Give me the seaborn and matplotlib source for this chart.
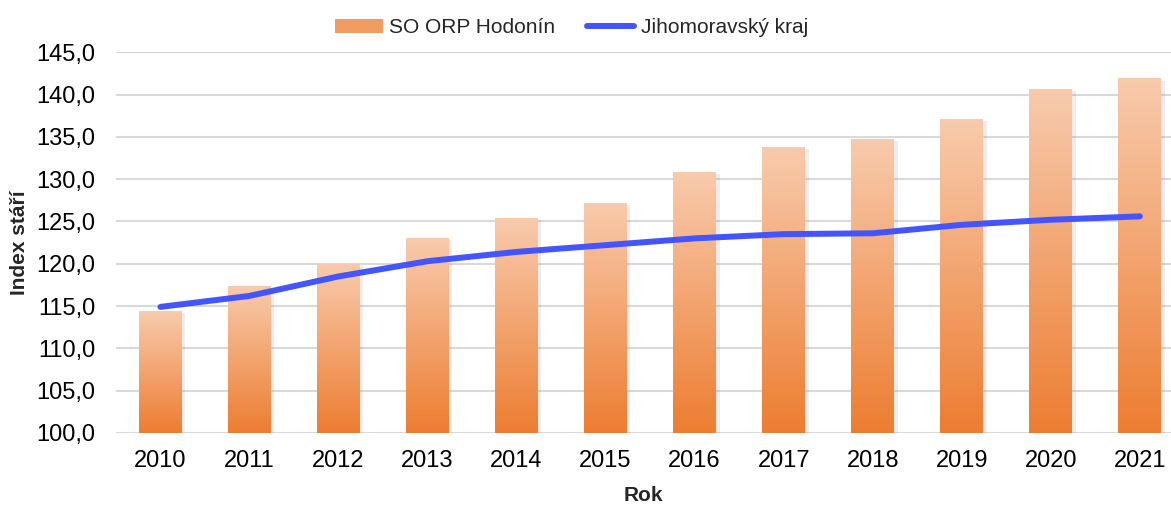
import numpy as np
import pandas as pd
import seaborn as sns
import matplotlib.pyplot as plt
from matplotlib.ticker import FuncFormatter, MultipleLocator
from matplotlib.colors import LinearSegmentedColormap
from matplotlib.patches import Patch
from matplotlib.lines import Line2D
import matplotlib.patheffects as pe

years = [2010, 2011, 2012, 2013, 2014, 2015, 2016, 2017, 2018, 2019, 2020, 2021]
hodonin = [114.4, 117.4, 120.0, 123.0, 125.4, 127.2, 130.8, 133.8, 134.8, 137.1, 140.7, 141.9]
jmk = [114.9, 116.2, 118.5, 120.3, 121.4, 122.2, 123.0, 123.5, 123.6, 124.6, 125.2, 125.6]

df = pd.DataFrame({"Rok": years, "SO ORP Hodonín": hodonin, "Jihomoravský kraj": jmk})

sns.set_theme(style="white")
plt.rcParams["font.family"] = ["Liberation Sans", "DejaVu Sans"]

fig = plt.figure(figsize=(11.71, 5.07), dpi=100)
ax = fig.add_axes([0.099, 0.146, 0.901, 0.751])

ymin, ymax = 100, 145
sns.barplot(data=df, x="Rok", y="SO ORP Hodonín", native_scale=True, width=0.48,
            color="#ED7D31", ax=ax, zorder=2)

# svislý přechod barvy v každém sloupci
cmap = LinearSegmentedColormap.from_list("grad", ["#ED7D31", "#F8CBAD"])
grad = np.linspace(0, 1, 256).reshape(-1, 1)
for bar in ax.patches:
    x0, w, h = bar.get_x(), bar.get_width(), bar.get_height()
    bar.set_facecolor("none")
    bar.set_edgecolor("none")
    bar.set_path_effects([pe.SimplePatchShadow(offset=(2.5, -1.5), shadow_rgbFace="#888888", alpha=0.15)])
    im = ax.imshow(grad, cmap=cmap, origin="lower", aspect="auto",
                   extent=[x0, x0 + w, ymin, h], zorder=2.5)
    im.set_clip_path(bar)

sns.lineplot(data=df, x="Rok", y="Jihomoravský kraj", color="#4455FF", lw=4.3,
             ax=ax, zorder=4, solid_capstyle="round", solid_joinstyle="round")

ax.set_xlim(2009.5, 2021.35)
ax.set_ylim(ymin, ymax)
ax.yaxis.set_major_locator(MultipleLocator(5))
ax.yaxis.set_major_formatter(FuncFormatter(lambda v, p: f"{v:.1f}".replace(".", ",")))
ax.set_xticks(years)
ax.set_xticklabels([str(y) for y in years])
ax.grid(axis="y", color="#D9D9D9", lw=1.5, zorder=0)
ax.set_axisbelow(True)
for s in ax.spines.values():
    s.set_visible(False)
ax.tick_params(axis="both", labelsize=17, length=0, colors="#000000")
ax.tick_params(axis="x", pad=12)
ax.tick_params(axis="y", pad=15)
ax.set_xlabel("Rok", fontsize=15, fontweight="bold", labelpad=10)
ax.set_ylabel("Index stáří", fontsize=15, fontweight="bold", labelpad=5)

handles = [Patch(facecolor="#F19C62", edgecolor="none"),
           Line2D([0], [0], color="#4455FF", lw=4.3, solid_capstyle="round")]
fig.legend(handles, ["SO ORP Hodonín", "Jihomoravský kraj"], loc="center",
           bbox_to_anchor=(0.488, 0.945), ncol=2, frameon=False, fontsize=15,
           handlelength=2.3, handletextpad=0.3, columnspacing=1.5)

fig.savefig("out.png", dpi=100)
